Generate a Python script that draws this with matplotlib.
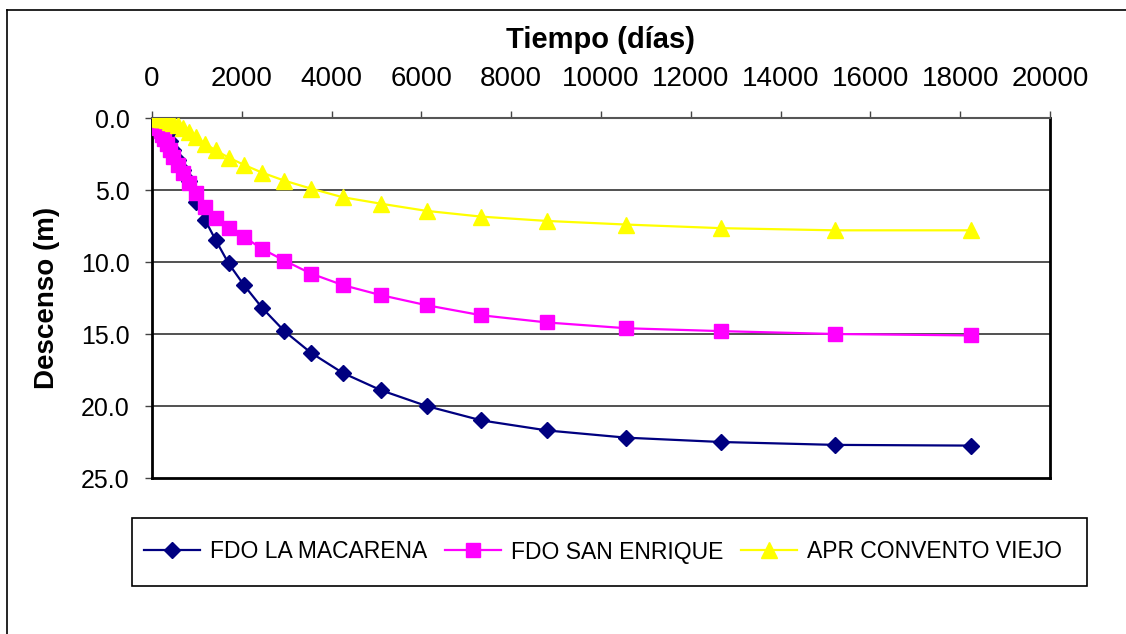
import matplotlib.pyplot as plt
from matplotlib.lines import Line2D
from matplotlib.patches import Rectangle

plt.rcParams['font.family'] = ['Liberation Sans', 'DejaVu Sans']

# DATA (tiempo en días, descenso en m)
tiempo = [53, 64, 77, 92, 111, 133, 160, 191, 230, 276, 331, 397, 476, 571,
          686, 823, 987, 1185, 1422, 1706, 2047, 2457, 2948, 3538, 4246,
          5095, 6114, 7336, 8804, 10564, 12677, 15208, 18250]

macarena = [0.0, 0.0, 0.01, 0.02, 0.04, 0.08, 0.16, 0.28, 0.45, 0.7, 1.1, 1.6,
            2.2, 2.9, 3.6, 4.4, 5.8, 7.1, 8.5, 10.1, 11.6, 13.2, 14.8, 16.3,
            17.7, 18.9, 20.0, 21.0, 21.7, 22.2, 22.5, 22.7, 22.75]

san_enrique = [0.05, 0.1, 0.15, 0.25, 0.35, 0.5, 0.7, 0.9, 1.15, 1.45, 1.8,
               2.2, 2.7, 3.26, 3.84, 4.5, 5.2, 6.15, 6.97, 7.66, 8.25, 9.1,
               9.9, 10.8, 11.6, 12.3, 13.0, 13.7, 14.2, 14.6, 14.8, 15.0, 15.1]

convento = [0.0, 0.0, 0.0, 0.0, 0.01, 0.01, 0.02, 0.04, 0.07, 0.1, 0.17,
            0.25, 0.35, 0.5, 0.7, 0.95, 1.35, 1.8, 2.25, 2.75, 3.25, 3.8,
            4.35, 4.9, 5.5, 5.95, 6.45, 6.85, 7.15, 7.4, 7.65, 7.8, 7.8]

series = ['FDO LA MACARENA', 'FDO SAN ENRIQUE', 'APR CONVENTO VIEJO']
x_ticks = [0, 2000, 4000, 6000, 8000, 10000, 12000, 14000, 16000, 18000, 20000]
y_ticks = [0, 5, 10, 15, 20, 25]

W, H = 1126, 634
fig = plt.figure(figsize=(W / 100, H / 100), dpi=100)
ax = fig.add_axes([152 / W, 1 - 478 / H, (1050 - 152) / W, (478 - 118) / H])

ax.plot(tiempo, macarena, color='#000080', lw=1.6, marker='D', ms=8.5,
        label=series[0], zorder=3)
ax.plot(tiempo, san_enrique, color='#FF00FF', lw=1.6, marker='s', ms=9.5,
        label=series[1], zorder=3)
ax.plot(tiempo, convento, color='#FFFF00', lw=1.6, marker='^', ms=11,
        label=series[2], zorder=3)

ax.set_xlim(0, 20000)
ax.set_ylim(25, 0)
ax.xaxis.tick_top()
ax.xaxis.set_label_position('top')
ax.set_xticks(x_ticks)
ax.set_yticks(y_ticks)
ax.set_yticklabels([f'{v:.1f}' for v in y_ticks])
ax.tick_params(axis='both', length=5, width=1, direction='out', color='#444444')
ax.tick_params(axis='x', labelsize=20, pad=14)
ax.tick_params(axis='y', labelsize=18, pad=11)
ax.set_xlabel('Tiempo (días)', fontsize=21, fontweight='bold', labelpad=13)
ax.set_ylabel('Descenso (m)', fontsize=20, fontweight='bold')
ax.yaxis.set_label_coords(-0.102, 0.5)

for v in y_ticks[1:-1]:
    ax.axhline(v, color='#333333', lw=1.2, zorder=1)

for s in ['left', 'right', 'bottom']:
    ax.spines[s].set_linewidth(2)
    ax.spines[s].set_color('black')
ax.spines['top'].set_linewidth(1.5)
ax.spines['top'].set_color('#555555')

# outer chart frame
fig.add_artist(Line2D([7 / W, 1], [1 - 10 / H, 1 - 10 / H], color='black', lw=1.2))
fig.add_artist(Line2D([7 / W, 7 / W], [0, 1 - 10 / H], color='black', lw=1.2))

# legend box
fig.add_artist(Rectangle((132 / W, 1 - 586 / H), (1087 - 132) / W, (586 - 518) / H,
                         transform=fig.transFigure, fill=False, ec='black', lw=1.2))
fig.legend(loc='center', bbox_to_anchor=(603 / W, 1 - 552 / H),
           ncol=3, frameon=False, fontsize=16.5, handlelength=2.45,
           columnspacing=0.75, handletextpad=0.45)

fig.savefig('out.png', dpi=100)
